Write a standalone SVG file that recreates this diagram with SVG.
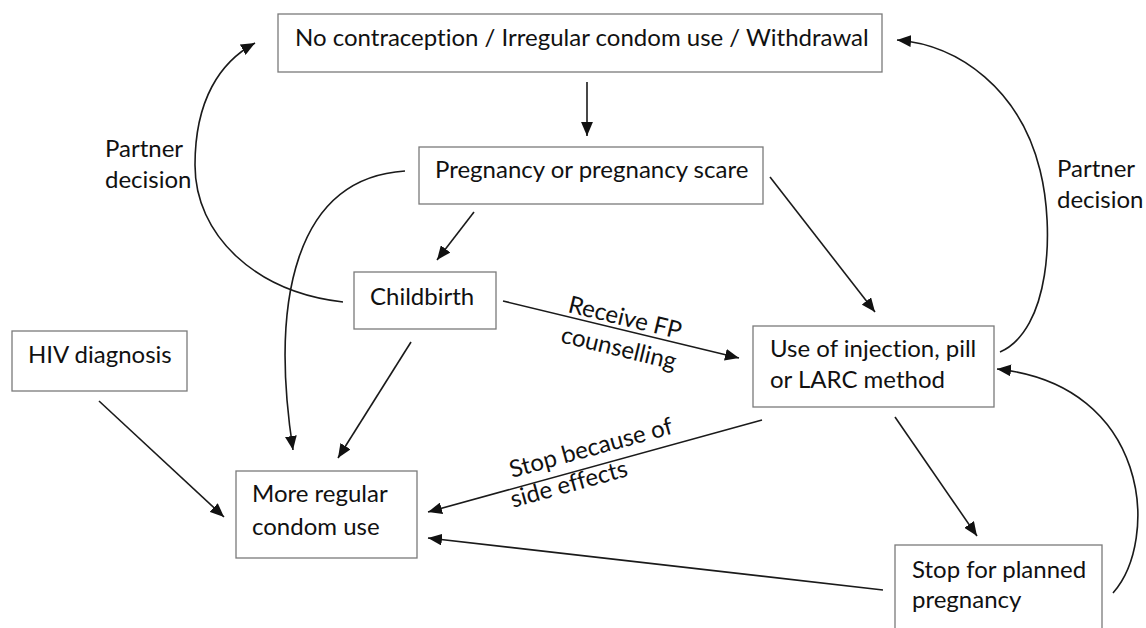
<svg xmlns="http://www.w3.org/2000/svg" width="1146" height="628" viewBox="0 0 1146 628">
  <style>
    .box { fill: #ffffff; stroke: #7a7a7a; stroke-width: 1.3; }
    .lbl { font-family: Lato, "Open Sans", sans-serif; font-size: 24px; fill: #111111; font-variant-ligatures: none; }
    .edge { fill: none; stroke: #1a1a1a; stroke-width: 1.6; }
  </style>
  <defs>
    <marker id="arrow" viewBox="0 0 13 11" refX="13" refY="5.5" markerWidth="14" markerHeight="12" markerUnits="userSpaceOnUse" orient="auto">
      <path d="M0,0 L13,5.5 L0,11 Z" fill="#111111"/>
    </marker>
  </defs>
  <rect width="1146" height="628" fill="#ffffff"/>

  <!-- connectors -->
  <g id="connectors">
    <path class="edge" d="M587,82 L587,136" marker-end="url(#arrow)"/>
    <path class="edge" d="M474,212 L437,260" marker-end="url(#arrow)"/>
    <path class="edge" d="M770,177 L875,312" marker-end="url(#arrow)"/>
    <path class="edge" d="M405,171 C295,178 270,300 293,450" marker-end="url(#arrow)"/>
    <path class="edge" d="M343,302 C255,292 195,235 195,165 C195,100 220,62 255,43" marker-end="url(#arrow)"/>
    <path class="edge" d="M1000,352 C1050,330 1055,230 1040,170 C1020,90 960,45 897,40" marker-end="url(#arrow)"/>
    <path class="edge" d="M411,342 L338,458" marker-end="url(#arrow)"/>
    <path class="edge" d="M503,301 L739,358" marker-end="url(#arrow)"/>
    <path class="edge" d="M99,401 L224,517" marker-end="url(#arrow)"/>
    <path class="edge" d="M762,420 L428,512" marker-end="url(#arrow)"/>
    <path class="edge" d="M895,417 L977,536" marker-end="url(#arrow)"/>
    <path class="edge" d="M883,590 L428,538" marker-end="url(#arrow)"/>
    <path class="edge" d="M1113,593 C1160,540 1150,385 997,369" marker-end="url(#arrow)"/>

    <text class="lbl" x="105" y="157">Partner</text>
    <text class="lbl" x="105" y="188">decision</text>
    <text class="lbl" x="1057" y="177">Partner</text>
    <text class="lbl" x="1057" y="208">decision</text>
    <g transform="translate(567,312) rotate(13.6)">
      <text class="lbl" x="0" y="0">Receive FP</text>
      <text class="lbl" x="0" y="31">counselling</text>
    </g>
    <g transform="translate(512,478) rotate(-15.4)">
      <text class="lbl" x="0" y="0">Stop because of</text>
      <text class="lbl" x="-7" y="29">side effects</text>
    </g>
  </g>

  <g id="node-none">
    <rect class="box" x="278" y="14" width="604" height="58"/>
    <text class="lbl" x="295" y="46">No contraception / Irregular condom use / Withdrawal</text>
  </g>
  <g id="node-pregnancy">
    <rect class="box" x="419" y="147" width="344" height="57"/>
    <text class="lbl" x="435" y="178">Pregnancy or pregnancy scare</text>
  </g>
  <g id="node-childbirth">
    <rect class="box" x="354" y="272" width="142" height="57"/>
    <text class="lbl" x="370" y="305">Childbirth</text>
  </g>
  <g id="node-hiv">
    <rect class="box" x="12" y="331" width="175" height="60"/>
    <text class="lbl" x="28" y="363">HIV diagnosis</text>
  </g>
  <g id="node-use">
    <rect class="box" x="753" y="326" width="241" height="81"/>
    <text class="lbl" x="770" y="357">Use of injection, pill</text>
    <text class="lbl" x="770" y="388">or LARC method</text>
  </g>
  <g id="node-condom">
    <rect class="box" x="236" y="471" width="181" height="87"/>
    <text class="lbl" x="252" y="502">More regular</text>
    <text class="lbl" x="252" y="535">condom use</text>
  </g>
  <g id="node-stop">
    <rect class="box" x="895" y="545" width="207" height="100"/>
    <text class="lbl" x="912" y="578">Stop for planned</text>
    <text class="lbl" x="912" y="608">pregnancy</text>
  </g>
</svg>
